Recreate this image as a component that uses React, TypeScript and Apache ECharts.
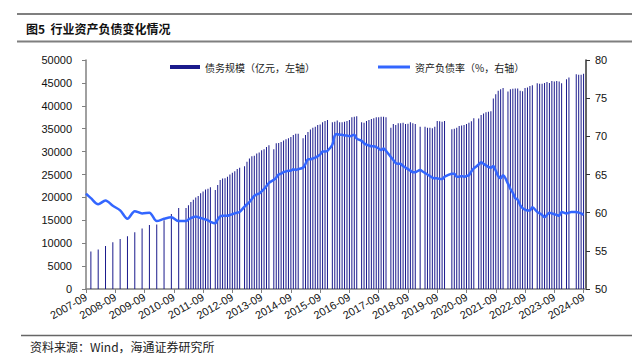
import React, { useEffect, useRef } from "react";
import * as echarts from "echarts";

// ---- categories (monthly, 2007-09 .. 2024-10) ----
const START_YEAR = 2007;
const START_MONTH = 9;
const MONTH_COUNT = 206;
const months: string[] = [];
for (let i = 0; i < MONTH_COUNT; i++) {
  const m0 = START_MONTH - 1 + i;
  const y = START_YEAR + Math.floor(m0 / 12);
  const m = (m0 % 12) + 1;
  months.push(`${y}-${m < 10 ? "0" + m : m}`);
}

// ---- debt scale (亿元), quarterly 2007-11 .. 2010-11 ----
const debtQuarterly = [8200, 8600, 9400, 10200, 10900, 11500, 12400, 13200, 14000, 14100, 15000, 16400, 17700];
// monthly, Feb..Dec (January not published)
const debt2011 = [17700, 18300, 19000, 19500, 20000, 20300, 20900, 21300, 21700, 21900, 22200];
const debt2012 = [21600, 22700, 23800, 24100, 24200, 24500, 25000, 25400, 25700, 26200, 26500];
const debt2013 = [26800, 27800, 28500, 29000, 29100, 29600, 29800, 30300, 30500, 31000, 31400];
const debt2014 = [30500, 31800, 31900, 32100, 32400, 32700, 32900, 33200, 33600, 33900, 33900];
const debt2015 = [32900, 33600, 34300, 34800, 35200, 35400, 35800, 35900, 36400, 36700, 36900];
const debt2016 = [36400, 36500, 36800, 36400, 36400, 36500, 36700, 36900, 37500, 37600, 37700];
const debt2017 = [36400, 36300, 36700, 36900, 37100, 37300, 37500, 37500, 37600, 37600, 37500];
const debt2018 = [35200, 36000, 35800, 36200, 36200, 36300, 36000, 36100, 36400, 36200, 36000];
const debt2019 = [35400, null, 35400, 35200, 35200, 35100, 35400, 36700, 36600, 36500, 36700];
const debt2020 = [null, 34900, 35000, 35200, 35600, 35700, 35800, 36000, 36300, 36600, 37300];
const debt2021 = [37200, 38000, 38300, 38600, 38700, 38800, 41600, 42500, 43300, 43600, 43900];
const debt2022 = [43100, 43600, 43700, 43800, 43800, 43300, 43200, 43900, 44000, 44300, 44500];
const debt2023 = [44900, 44800, 44800, 45000, 45200, 45000, 45400, 45300, 45400, 45300, 44900];
const debt2024 = [45800, 46200, null, null, 46900, 46800, 46800, 47000];

// ---- asset-liability ratio (%) ----
const rateStart = 62.5; // 2007-09
const rateQuarterly = [61.9, 61.1, 61.6, 60.9, 60.3, 59.2, 60.2, 59.9, 60.0, 58.9, 59.2, 59.4, 58.9];
const rate2011 = [58.9, 59.1, 59.3, 59.4, 59.5, 59.4, 59.3, 59.2, 59.1, 59.0, 58.8];
const rate2012 = [58.6, 59.1, 59.5, 59.6, 59.6, 59.6, 59.7, 59.8, 59.9, 60.0, 60.1];
const rate2013 = [60.8, 61.1, 61.4, 61.8, 62.2, 62.4, 62.5, 62.8, 63.1, 63.5, 63.9];
const rate2014 = [64.3, 64.6, 65.0, 65.1, 65.3, 65.4, 65.5, 65.5, 65.7, 65.6, 65.7];
const rate2015 = [65.9, 66.4, 67.0, 67.0, 67.1, 67.2, 67.4, 67.6, 68.0, 68.0, 68.1];
const rate2016 = [68.9, 70.1, 70.3, 70.2, 70.2, 70.1, 70.1, 70.0, 70.1, 70.2, 69.7];
const rate2017 = [69.4, 69.1, 68.9, 68.8, 68.7, 68.7, 68.6, 68.4, 68.2, 68.4, 68.1];
const rate2018 = [67.3, 66.9, 66.5, 66.4, 66.4, 66.1, 65.9, 65.7, 65.5, 65.3, 65.3];
const rate2019 = [65.6, 65.4, 65.2, 65.0, 64.8, 64.6, 64.5, 64.5, 64.4, 64.4, 64.7];
const rate2020 = [65.0, 65.1, 65.1, 64.7, 64.7, 64.8, 64.7, 64.8, 64.9, 65.4, 65.8];
const rate2021 = [66.3, 66.6, 66.4, 66.2, 66.0, 65.9, 66.1, 65.5, 64.8, 64.5, 64.9];
const rate2022 = [63.8, 63.1, 62.6, 61.9, 61.7, 61.0, 60.6, 60.4, 60.3, 60.3, 60.7];
const rate2023 = [60.1, 59.9, 59.7, 59.4, 59.7, 60.0, 59.9, 59.8, 59.7, 59.6, 60.1];
const rate2024 = [59.9, 60.0, 60.1, 60.1, 60.1, 60.0, 59.9, 59.7];

const DEBT_NAME = "债务规模（亿元，左轴）";
const RATE_NAME = "资产负债率（%，右轴）";
const TITLE = "图5  行业资产负债变化情况";
const SOURCE = "资料来源：Wind，海通证券研究所";

function buildSeries(first: number | null, quarterly: number[], yearly: [number, (number | null)[]][]) {
  const out: (number | null)[] = new Array(MONTH_COUNT).fill(null);
  if (first !== null) out[0] = first;
  quarterly.forEach((v, k) => {
    out[2 + 3 * k] = v;
  });
  yearly.forEach(([year, arr]) => {
    const febIdx = 5 + 12 * (year - 2008);
    arr.forEach((v, k) => {
      if (febIdx + k < MONTH_COUNT) out[febIdx + k] = v;
    });
  });
  return out;
}

const debtSeries = buildSeries(null, debtQuarterly, [
  [2011, debt2011], [2012, debt2012], [2013, debt2013], [2014, debt2014], [2015, debt2015],
  [2016, debt2016], [2017, debt2017], [2018, debt2018], [2019, debt2019], [2020, debt2020],
  [2021, debt2021], [2022, debt2022], [2023, debt2023], [2024, debt2024],
]);
const rateSeries = buildSeries(rateStart, rateQuarterly, [
  [2011, rate2011], [2012, rate2012], [2013, rate2013], [2014, rate2014], [2015, rate2015],
  [2016, rate2016], [2017, rate2017], [2018, rate2018], [2019, rate2019], [2020, rate2020],
  [2021, rate2021], [2022, rate2022], [2023, rate2023], [2024, rate2024],
]);

const LATIN = "'Liberation Sans', Arial, 'Noto Sans CJK SC', sans-serif";
const CJK = "'Noto Sans CJK SC', 'Liberation Sans', sans-serif";
const AXIS_GRAY = "#808080";

export default function App() {
  const ref = useRef<HTMLDivElement>(null);
  useEffect(() => {
    if (!ref.current) return;
    const chart = echarts.init(ref.current, undefined, { renderer: "svg" });
    chart.setOption({
      animation: false,
      backgroundColor: "#ffffff",
      grid: { left: 86, right: 46, top: 60, bottom: 75, containLabel: false },
      legend: [
        {
          data: [{ name: DEBT_NAME, icon: "rect" }],
          left: 165,
          top: 57,
          itemWidth: 30,
          itemHeight: 4,
          itemGap: 0,
          textStyle: { fontFamily: CJK, fontSize: 10, color: "#222" },
        },
        {
          data: [{ name: RATE_NAME, icon: "rect" }],
          left: 373,
          top: 57,
          itemWidth: 32,
          itemHeight: 3,
          itemGap: 0,
          textStyle: { fontFamily: CJK, fontSize: 10, color: "#222" },
        },
      ],
      xAxis: {
        type: "category",
        data: months,
        boundaryGap: false,
        axisLine: { show: true, lineStyle: { color: AXIS_GRAY, width: 1.5 } },
        axisTick: { show: true, interval: 11, length: 4, lineStyle: { color: AXIS_GRAY } },
        axisLabel: {
          interval: 11,
          rotate: 30,
          margin: 7,
          fontFamily: LATIN,
          fontSize: 11,
          color: "#111",
        },
        splitLine: { show: false },
      },
      yAxis: [
        {
          type: "value",
          min: 0,
          max: 50000,
          interval: 5000,
          axisLine: { show: true, lineStyle: { color: AXIS_GRAY, width: 1.5 } },
          axisTick: { show: true, length: 4, lineStyle: { color: AXIS_GRAY } },
          axisLabel: {
            margin: 14,
            fontFamily: LATIN,
            fontSize: 11,
            color: "#111",
            formatter: (v: number) => String(v),
          },
          splitLine: { show: false },
        },
        {
          type: "value",
          min: 50,
          max: 80,
          interval: 5,
          position: "right",
          axisLine: { show: true, lineStyle: { color: "#333", width: 1.5 } },
          axisTick: { show: true, length: 4, lineStyle: { color: "#333" } },
          axisLabel: {
            margin: 9,
            fontFamily: LATIN,
            fontSize: 11,
            color: "#111",
            formatter: (v: number) => String(v),
          },
          splitLine: { show: false },
        },
      ],
      series: [
        {
          name: DEBT_NAME,
          type: "bar",
          yAxisIndex: 0,
          data: debtSeries,
          barWidth: 1,
          itemStyle: { color: "#1a1a8c" },
          z: 2,
        },
        {
          name: RATE_NAME,
          type: "line",
          yAxisIndex: 1,
          data: rateSeries,
          connectNulls: true,
          showSymbol: false,
          smooth: 0.3,
          color: "#3366ff",
          lineStyle: { color: "#3366ff", width: 2.5 },
          z: 3,
        },
      ],
      graphic: [
        { type: "line", shape: { x1: 17, y1: 14, x2: 632, y2: 14 }, style: { stroke: "#7f7f7f", lineWidth: 2 } },
        { type: "line", shape: { x1: 17, y1: 41.5, x2: 632, y2: 41.5 }, style: { stroke: "#7f7f7f", lineWidth: 2 } },
        {
          type: "text",
          x: 26,
          y: 28,
          style: {
            text: TITLE,
            fontFamily: CJK,
            fontSize: 12,
            fontWeight: "bold",
            fill: "#111",
            textVerticalAlign: "middle",
          },
        },
        { type: "line", shape: { x1: 21, y1: 335.5, x2: 632, y2: 335.5 }, style: { stroke: "#666", lineWidth: 1.5 } },
        {
          type: "text",
          x: 30,
          y: 346,
          style: {
            text: SOURCE,
            fontFamily: CJK,
            fontSize: 12,
            fill: "#222",
            textVerticalAlign: "middle",
          },
        },
      ],
    });
    return () => chart.dispose();
  }, []);
  return (
    <div
      ref={ref}
      style={{ position: "absolute", left: 0, top: 0, width: 632, height: 364, background: "#fff" }}
    />
  );
}
